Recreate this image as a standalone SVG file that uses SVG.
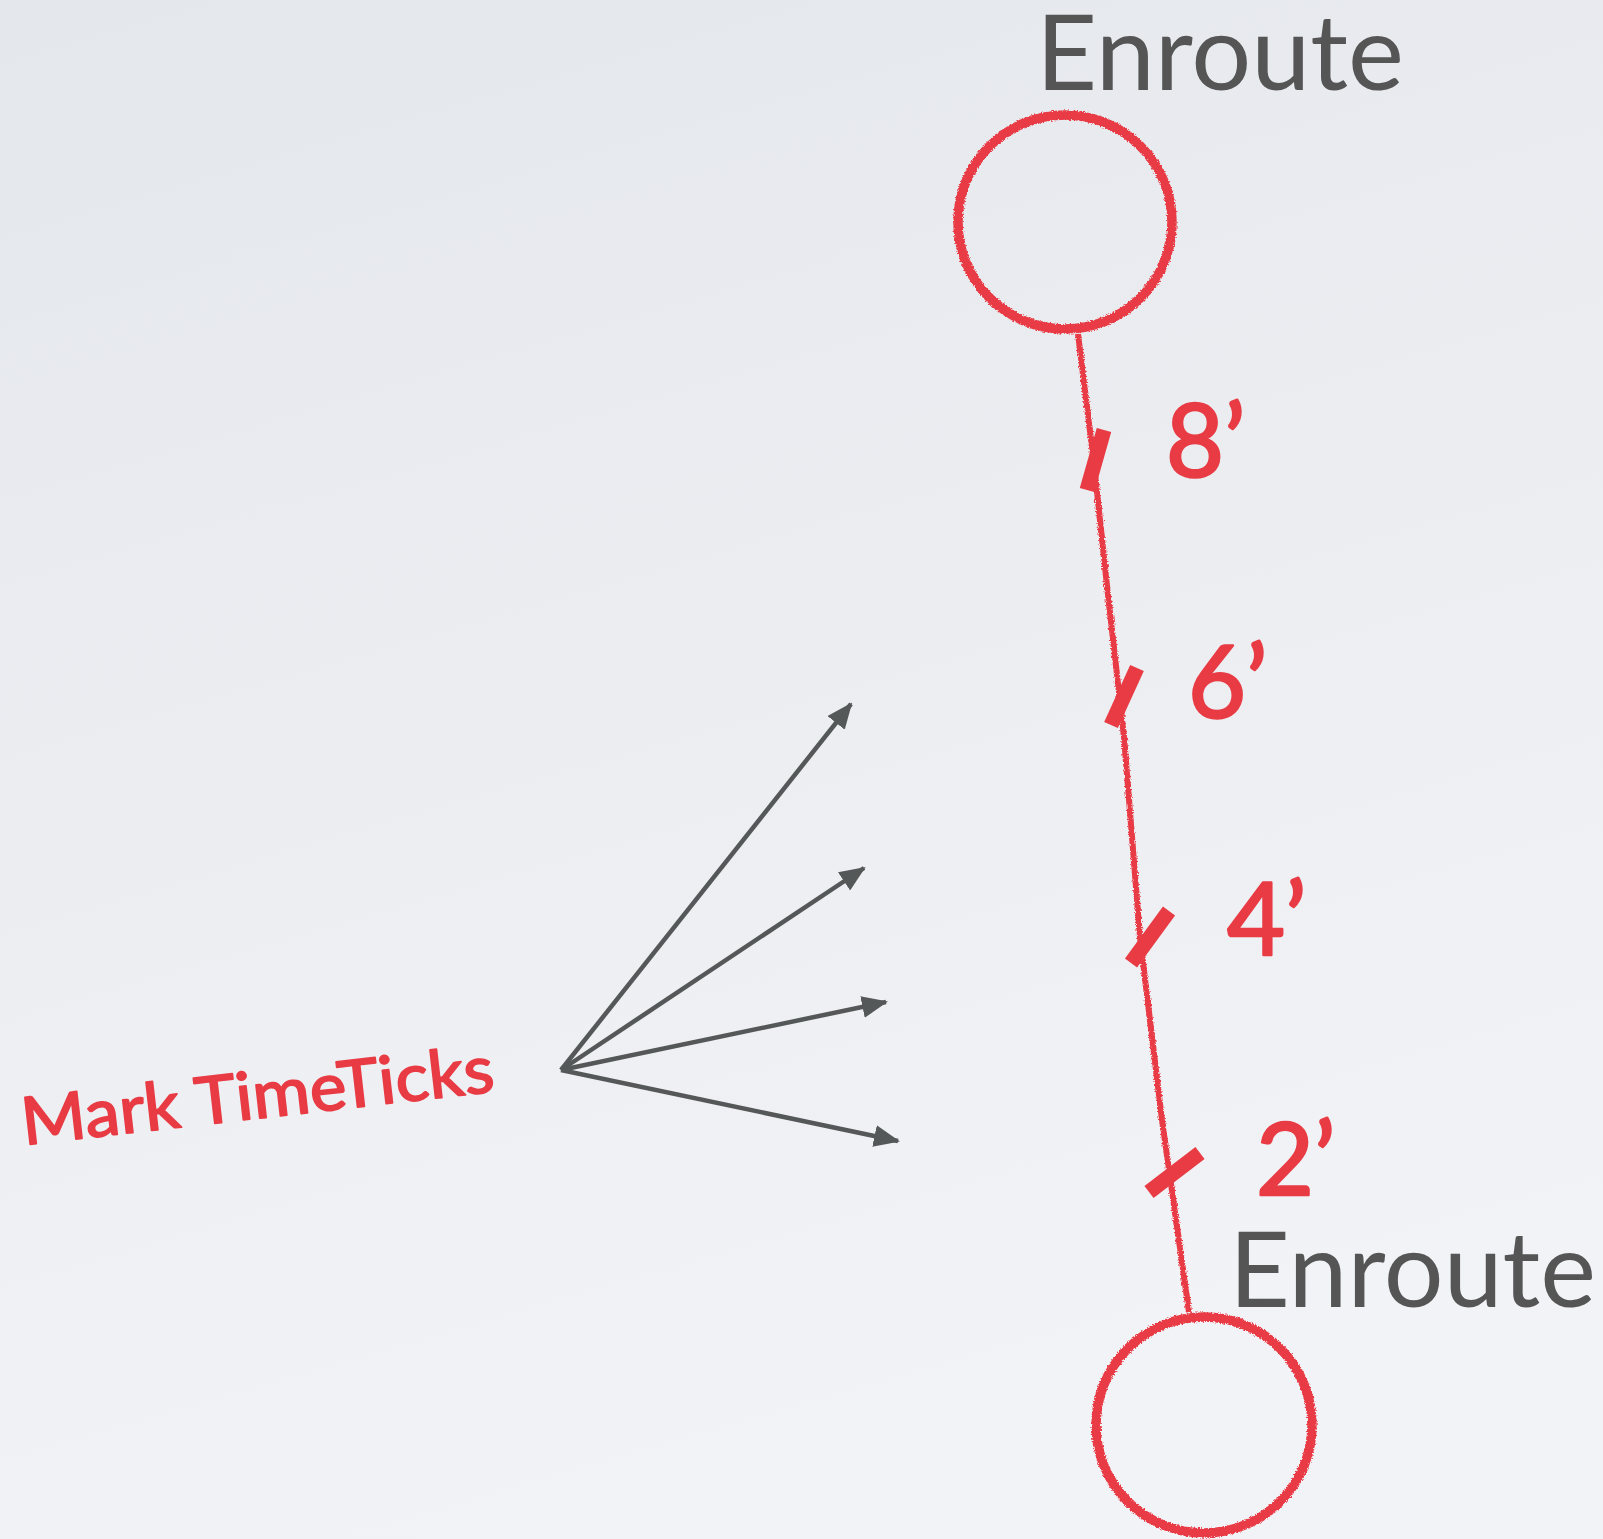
<svg xmlns="http://www.w3.org/2000/svg" width="1603" height="1539" viewBox="0 0 1603 1539">
<defs>
<linearGradient id="bg" x1="0" y1="0" x2="0.3" y2="1">
<stop offset="0" stop-color="#e4e7eb"/>
<stop offset="1" stop-color="#f2f3f7"/>
</linearGradient>
<filter id="chalk" x="-10%" y="-10%" width="120%" height="120%">
<feTurbulence type="fractalNoise" baseFrequency="0.7" numOctaves="2" seed="3" result="n"/>
<feDisplacementMap in="SourceGraphic" in2="n" scale="4" xChannelSelector="R" yChannelSelector="G"/>
</filter>
<marker id="ah" viewBox="0 0 26 22" refX="24" refY="11" markerWidth="26" markerHeight="22" markerUnits="userSpaceOnUse" orient="auto">
<path d="M0,0 L26,11 L0,22 Z" fill="#555858"/>
</marker>
<style>
.node{fill:none;stroke:#e83b44;stroke-width:9.5}
.route{fill:none;stroke:#e83b44;stroke-width:6}
.tick{stroke:#e83b44;stroke-width:15;stroke-linecap:butt}
.arrow{stroke:#555858;stroke-width:4.5;fill:none}
.title{font-family:Lato,"Open Sans","Liberation Sans",sans-serif;font-size:104px;fill:#555555}
.num{font-family:Lato,"Open Sans","Liberation Sans",sans-serif;font-size:100px;fill:#e83b44;stroke:#e83b44;stroke-width:2.5;stroke-linejoin:round}
.note{font-family:Lato,"Open Sans","Liberation Sans",sans-serif;font-size:66px;fill:#e83b44;stroke:#e83b44;stroke-width:1.8;stroke-linejoin:round}
</style>
</defs>
<rect width="1603" height="1539" fill="url(#bg)"/>

<g id="connectors">
<path class="route" filter="url(#chalk)" d="M1078,334 L1093,455 L1108,595 L1124,737 L1140,937 L1162,1120 L1189,1312"/>
<line class="tick" x1="1104" y1="430" x2="1087" y2="490"/>
<line class="tick" x1="1137" y1="668" x2="1111" y2="725"/>
<line class="tick" x1="1169" y1="911" x2="1131" y2="963"/>
<line class="tick" x1="1200" y1="1153" x2="1149" y2="1192"/>
<line class="arrow" x1="561" y1="1070" x2="851" y2="704" marker-end="url(#ah)"/>
<line class="arrow" x1="561" y1="1070" x2="864" y2="868" marker-end="url(#ah)"/>
<line class="arrow" x1="561" y1="1070" x2="886" y2="1002" marker-end="url(#ah)"/>
<line class="arrow" x1="561" y1="1070" x2="898" y2="1141" marker-end="url(#ah)"/>
</g>

<g id="node-top">
<circle class="node" filter="url(#chalk)" cx="1065" cy="222" r="107"/>
<text class="title" x="1036" y="90" textLength="368" lengthAdjust="spacingAndGlyphs">Enroute</text>
</g>

<g id="node-bottom">
<circle class="node" filter="url(#chalk)" cx="1204" cy="1425" r="108"/>
<text class="title" x="1229" y="1307" textLength="367" lengthAdjust="spacingAndGlyphs">Enroute</text>
</g>

<g id="labels">
<text class="num" x="1166" y="477">8’</text>
<text class="num" x="1188" y="718">6’</text>
<text class="num" x="1227" y="955">4’</text>
<text class="num" x="1256" y="1195">2’</text>
</g>

<g id="note">
<text class="note" x="24" y="1145" transform="rotate(-6.5 24 1145)" textLength="475" lengthAdjust="spacingAndGlyphs">Mark TimeTicks</text>
</g>
</svg>
